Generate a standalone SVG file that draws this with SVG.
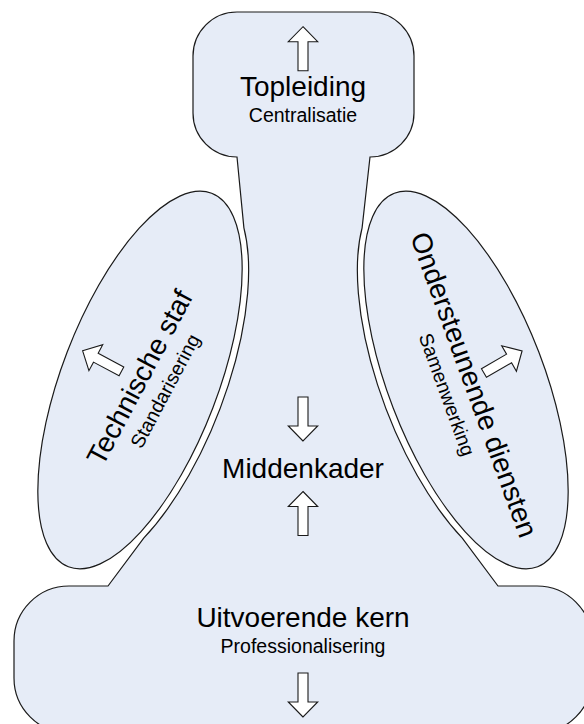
<svg xmlns="http://www.w3.org/2000/svg" width="584" height="724" viewBox="0 0 584 724">
<style>
.shape{fill:#E6ECF7;stroke:#1a1a1a;stroke-width:1.2}
.arrow{fill:#ffffff;stroke:#1a1a1a;stroke-width:1.1}
.t1{font-family:"Liberation Sans",Arial,sans-serif;font-size:28px;fill:#000;text-anchor:middle}
.t2{font-family:"Liberation Sans",Arial,sans-serif;font-size:19.5px;fill:#000;text-anchor:middle}
</style>
<defs>
<path id="arr" d="M0,-22 L14.7,-7 L5,-7 L5,22 L-5,22 L-5,-7 L-14.7,-7 Z"/>
</defs>
<rect width="584" height="724" fill="#ffffff"/>
<g id="node-core">
<path class="shape" d="M237,12 H370 A44,44 0 0 1 414,56 V113 A44,44 0 0 1 370,157 L362.1,227.8 A207,85 69 0 0 462.3,538.2 L498,586 H537 A55,55 0 0 1 592,641 V678 A55,55 0 0 1 537,733 H69 A55,55 0 0 1 14,678 V641 A55,55 0 0 1 69,586 H108 L143.7,538.2 A207,85 -69 0 0 243.9,227.8 L237,157 A44,44 0 0 1 193,113 V56 A44,44 0 0 1 237,12 Z"/>
</g>
<g id="node-topleiding">
<use href="#arr" class="arrow" transform="translate(303,48.7)"/>
<text class="t1" x="303" y="96">Topleiding</text>
<text class="t2" x="303" y="122">Centralisatie</text>
</g>
<g id="node-middenkader">
<use href="#arr" class="arrow" transform="translate(303,419) rotate(180)"/>
<text class="t1" x="303" y="478">Middenkader</text>
<use href="#arr" class="arrow" transform="translate(303,513.5)"/>
</g>
<g id="node-uitvoerende-kern">
<text class="t1" x="303" y="627">Uitvoerende kern</text>
<text class="t2" x="303" y="653">Professionalisering</text>
<use href="#arr" class="arrow" transform="translate(303,695) rotate(180)"/>
</g>
<g id="node-technische-staf">
<ellipse class="shape" cx="140" cy="380" rx="200" ry="78" transform="rotate(-69 140 380)"/>
<use href="#arr" class="arrow" transform="translate(102,361) rotate(-62)"/>
<g transform="translate(148,382) rotate(-62)">
<text class="t1" x="0" y="0">Technische staf</text>
<text class="t2" x="0" y="26">Standarisering</text>
</g>
</g>
<g id="node-ondersteunende-diensten">
<ellipse class="shape" cx="466" cy="380" rx="200" ry="78" transform="rotate(69 466 380)"/>
<use href="#arr" class="arrow" transform="translate(503,362) rotate(60)"/>
<g transform="translate(465,388) rotate(70)">
<text class="t1" x="0" y="0">Ondersteunende diensten</text>
<text class="t2" x="0" y="26">Samenwerking</text>
</g>
</g>
</svg>
